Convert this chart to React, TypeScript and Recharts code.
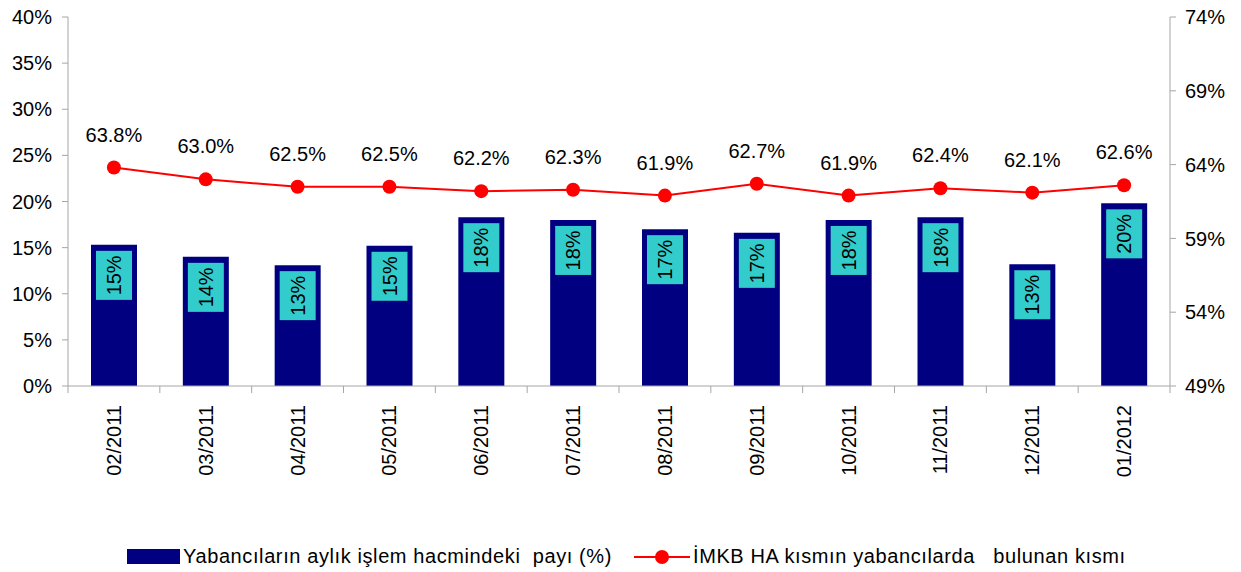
import React from "react";
import {
  ComposedChart,
  Bar,
  Line,
  XAxis,
  YAxis,
  LabelList,
} from "recharts";

const months = [
  "02/2011", "03/2011", "04/2011", "05/2011", "06/2011", "07/2011",
  "08/2011", "09/2011", "10/2011", "11/2011", "12/2011", "01/2012",
];
// foreign share of monthly trading volume (%)
const volumeShare = [15.3, 14.0, 13.1, 15.2, 18.3, 18.0, 17.0, 16.6, 18.0, 18.3, 13.2, 19.8];
// foreign ownership of free float (%)
const ownership = [63.8, 63.0, 62.5, 62.5, 62.2, 62.3, 61.9, 62.7, 61.9, 62.4, 62.1, 62.6];

const leftTicks = [0, 5, 10, 15, 20, 25, 30, 35, 40];
const rightTicks = [49, 54, 59, 64, 69, 74];

const data = months.map((m, i) => ({
  month: m,
  share: volumeShare[i],
  own: ownership[i],
}));

const FONT = "'Liberation Sans', Arial, sans-serif";
const AXIS = "#a6a6a6";
const W = 1241;
const H = 572;
const LEFT = 68;
const RIGHT = 71;
const TOP = 17;
const AXIS_H = 186;
const BAND = (W - LEFT - RIGHT) / months.length;
const BASE_Y = H - AXIS_H;

function XTick(props: any) {
  const { x, payload, index } = props;
  return (
    <g>
      <line x1={x - BAND / 2} x2={x - BAND / 2} y1={BASE_Y} y2={BASE_Y + 7} stroke={AXIS} />
      {index === months.length - 1 && (
        <line x1={x + BAND / 2} x2={x + BAND / 2} y1={BASE_Y} y2={BASE_Y + 7} stroke={AXIS} />
      )}
      <text
        transform={`translate(${x},${BASE_Y + 19}) rotate(-90)`}
        textAnchor="end"
        dy="0.35em"
        fontSize={20}
        fontFamily={FONT}
        fill="#000"
      >
        {payload.value}
      </text>
    </g>
  );
}

function BarTag(props: any) {
  const { x, y, width, value } = props;
  const bw = width - 10;
  const bh = 49;
  const cx = x + width / 2;
  const cy = y + 6 + bh / 2;
  return (
    <g>
      <rect x={x + 5} y={y + 6} width={bw} height={bh} fill="#33cccc" />
      <text
        transform={`translate(${cx},${cy}) rotate(-90)`}
        textAnchor="middle"
        dy="0.35em"
        fontSize={20}
        fontFamily={FONT}
        fill="#000"
      >
        {Math.round(value)}%
      </text>
    </g>
  );
}

function LegendBox() {
  return (
    <div
      style={{
        position: "absolute",
        left: 127,
        top: 545,
        display: "flex",
        alignItems: "center",
        fontFamily: FONT,
        fontSize: 20,
        letterSpacing: 0.6,
        color: "#000",
        whiteSpace: "pre",
      }}
    >
      <span style={{ display: "inline-block", width: 53, height: 15, background: "#000080", marginRight: 3 }} />
      <span>{"Yabancıların aylık işlem hacmindeki  payı (%)"}</span>
      <svg width={56} height={18} style={{ marginLeft: 22, marginRight: 3 }}>
        <line x1={0} x2={56} y1={9} y2={9} stroke="#ff0000" strokeWidth={2} />
        <circle cx={28} cy={9} r={7} fill="#ff0000" />
      </svg>
      <span>{"İMKB HA kısmın yabancılarda   bulunan kısmı"}</span>
    </div>
  );
}

export default function App() {
  return (
    <div style={{ position: "absolute", left: 0, top: 0, width: W, height: H, background: "#fff" }}>
      <ComposedChart
        width={W}
        height={H}
        data={data}
        margin={{ top: TOP, right: 0, left: 0, bottom: 0 }}
      >
        <XAxis
          dataKey="month"
          height={AXIS_H}
          interval={0}
          tickLine={false}
          axisLine={{ stroke: AXIS }}
          tick={<XTick />}
        />
        <YAxis
          yAxisId="left"
          width={LEFT}
          domain={[0, 40]}
          ticks={leftTicks}
          interval={0}
          tickFormatter={(v) => `${v}%`}
          tick={{ fontSize: 20, fontFamily: FONT, fill: "#000" }}
          tickLine={{ stroke: AXIS }}
          tickSize={6}
          tickMargin={10}
          axisLine={{ stroke: AXIS }}
        />
        <YAxis
          yAxisId="right"
          orientation="right"
          width={RIGHT}
          domain={[49, 74]}
          ticks={rightTicks}
          interval={0}
          tickFormatter={(v) => `${v}%`}
          tick={{ fontSize: 20, fontFamily: FONT, fill: "#000" }}
          tickLine={{ stroke: AXIS }}
          tickSize={6}
          tickMargin={9}
          axisLine={{ stroke: AXIS }}
        />
        <Bar yAxisId="left" dataKey="share" fill="#000080" barSize={46} isAnimationActive={false}>
          <LabelList dataKey="share" content={<BarTag />} />
        </Bar>
        <Line
          yAxisId="right"
          dataKey="own"
          stroke="#ff0000"
          strokeWidth={2}
          dot={{ r: 7, fill: "#ff0000", stroke: "#ff0000", strokeWidth: 0 }}
          isAnimationActive={false}
        >
          <LabelList
            dataKey="own"
            position="top"
            offset={26}
            formatter={(v: any) => `${Number(v).toFixed(1)}%`}
            style={{ fontSize: 20, fontFamily: FONT, fill: "#000" }}
          />
        </Line>
      </ComposedChart>
      <LegendBox />
    </div>
  );
}
